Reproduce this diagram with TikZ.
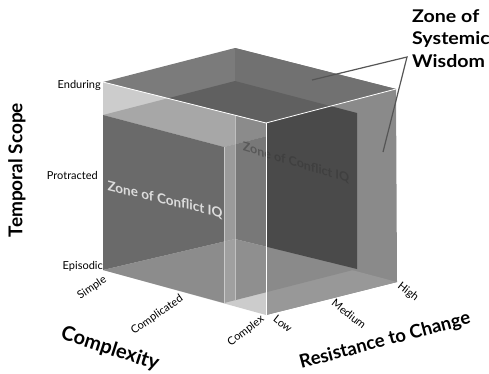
\documentclass[tikz,border=0pt]{standalone}
\usepackage{fontspec}
\setmainfont{Lato}
\newfontfamily\widefont[FakeStretch=1.12]{Lato}
\definecolor{cTop}{HTML}{7B7B7B}
\definecolor{cTopB}{HTML}{717171}
\definecolor{cTopI}{HTML}{606060}
\definecolor{cFront}{HTML}{CCCCCC}
\definecolor{cFrTopL}{HTML}{A7A7A7}
\definecolor{cFrTopR}{HTML}{8B8B8B}
\definecolor{cWallL}{HTML}{6A6A6A}
\definecolor{cFloorL}{HTML}{8C8C8C}
\definecolor{cBandU}{HTML}{9B9B9B}
\definecolor{cBandF}{HTML}{A0A0A0}
\definecolor{cMidU}{HTML}{787878}
\definecolor{cMidF}{HTML}{8F8F8F}
\definecolor{cRight}{HTML}{8A8A8A}
\definecolor{cFloorR}{HTML}{989898}
\definecolor{cFloorRI}{HTML}{8A8A8A}
\definecolor{cBack}{HTML}{4A4A4A}
\definecolor{cCallout}{HTML}{555555}
\definecolor{cZoneText}{HTML}{DCDCDC}
\definecolor{cGhost}{HTML}{333333}
\begin{document}
\begin{tikzpicture}[x=1pt,y=-1pt,
  whiteedge/.style={draw=white, line width=0.8pt},
  lightedge/.style={draw=white, draw opacity=0.45, line width=0.7pt},
  tick/.style={font=\fontsize{11}{12}\selectfont, inner sep=0pt},
  axislabel/.style={font=\bfseries\fontsize{19}{20}\selectfont, inner sep=0pt},
  callout/.style={draw=cCallout, line width=1.2pt}]
\useasboundingbox (0,0) rectangle (489,373);
% outer box
\coordinate (A) at (103,270);
\coordinate (B) at (266,315);
\coordinate (C) at (397,282);
\coordinate (D) at (235,239);
\coordinate (E) at (103,82);
\coordinate (F) at (266,123);
\coordinate (G) at (396,89);
\coordinate (H) at (235,48);
% inner box
\coordinate (ib) at (224,303);
\coordinate (ic) at (357,269);
\coordinate (ie) at (103,115);
\coordinate (if) at (224,147);
\coordinate (ig) at (357,113);
\coordinate (ih) at (235,81);
% helper points
\coordinate (P1) at (224,241.6);
\coordinate (P2) at (235,144.2);
\coordinate (P3) at (235,300.2);
\coordinate (P4) at (266,136.3);
\coordinate (P5) at (266,246.6);
\coordinate (P6) at (266,292.3);
\coordinate (Q1) at (235,115.2);
% top face
\fill[cTop] (E)--(F)--(G)--(H)--cycle;
\begin{scope}
  \clip (E)--(F)--(G)--(H)--cycle;
  \fill[cTopB] (235,0) rectangle (400,140);
  \fill[cTopI] (ie)--(if)--(ig)--(ih)--cycle;
\end{scope}
% front face
\fill[cFront] (A)--(B)--(F)--(E)--cycle;
\begin{scope}
  \clip (A)--(B)--(F)--(E)--cycle;
  \fill[cFrTopL] (ie)--(if)--(ig)--(ih)--cycle;
  \begin{scope}
    \clip (235,0) rectangle (266,373);
    \fill[cFrTopR] (ie)--(if)--(ig)--(ih)--cycle;
  \end{scope}
\end{scope}
\fill[cWallL] (ie)--(if)--(P1)--(A)--cycle;
\fill[cFloorL] (A)--(P1)--(ib)--cycle;
\fill[cBandU] (if)--(P2)--(D)--(P1)--cycle;
\fill[cBandF] (P1)--(D)--(P3)--(ib)--cycle;
\fill[cMidU] (P2)--(P4)--(P5)--(D)--cycle;
\fill[cMidF] (D)--(P5)--(P6)--(P3)--cycle;
% right face
\fill[cRight] (B)--(C)--(G)--(F)--cycle;
\begin{scope}
  \clip (B)--(C)--(G)--(F)--cycle;
  \fill[cFloorR] (A)--(B)--(C)--(D)--cycle;
  \fill[cFloorRI] (A)--(ib)--(ic)--(D)--cycle;
  \fill[cBack] (D)--(ih)--(ig)--(ic)--cycle;
\end{scope}
% ghost text on the back wall
\begin{scope}[shift={(296,163)}, yslant=-0.3]
  \node[transform shape, font=\bfseries\fontsize{12.5}{13}\selectfont, text=cGhost, text opacity=0.45, inner sep=0pt] (ghost) at (0,0) {Zone of Conflict IQ};
\end{scope}
% edges
\draw[whiteedge] (E)--(F)--(G);
\draw[whiteedge] (F)--(B);
\draw[lightedge] (if)--(ib);
\draw[lightedge] (Q1)--(P3);
% front text
\begin{scope}[shift={(165,200)}, yslant=-0.24]
  \node[transform shape, font=\bfseries\fontsize{13.5}{15}\selectfont, text=cZoneText, inner sep=0pt] (zone) at (0,0) {Zone of Conflict IQ};
\end{scope}
% callout
\node[font=\widefont\bfseries\fontsize{17.5}{22.5}\selectfont, align=left, anchor=north west, inner sep=0pt] (wis) at (412,9) {Zone of\\Systemic\\Wisdom};
\coordinate (cw) at (407,57);
\coordinate (ct1) at (312,80);
\coordinate (ct2) at (383,152);
\draw[callout] (ct1)--(cw)--(ct2);
% temporal ticks
\node[tick, anchor=east] (t1) at (101,85) {Enduring};
\node[tick, anchor=east] (t2) at (98,175) {Protracted};
\node[tick, anchor=east] (t3) at (103,266) {Episodic};
\node[axislabel, rotate=90] (tl) at (17,170) {Temporal Scope};
% complexity ticks
\node[tick, rotate=34] (c1) at (92,288) {Simple};
\node[tick, rotate=35] (c2) at (157,315) {Complicated};
\node[tick, rotate=37] (c3) at (246,331) {Complex};
\node[axislabel, font=\bfseries\fontsize{20}{21}\selectfont, rotate=-18] (cl) at (110,349) {Complexity};
% resistance ticks
\node[tick, rotate=-38] (r1) at (283,324) {Low};
\node[tick, rotate=-38] (r2) at (349,314) {Medium};
\node[tick, rotate=-38] (r3) at (408,292) {High};
\node[axislabel, font=\bfseries\fontsize{18.5}{20}\selectfont, rotate=15] (rl) at (385,341) {Resistance to Change};
\end{tikzpicture}
\end{document}
